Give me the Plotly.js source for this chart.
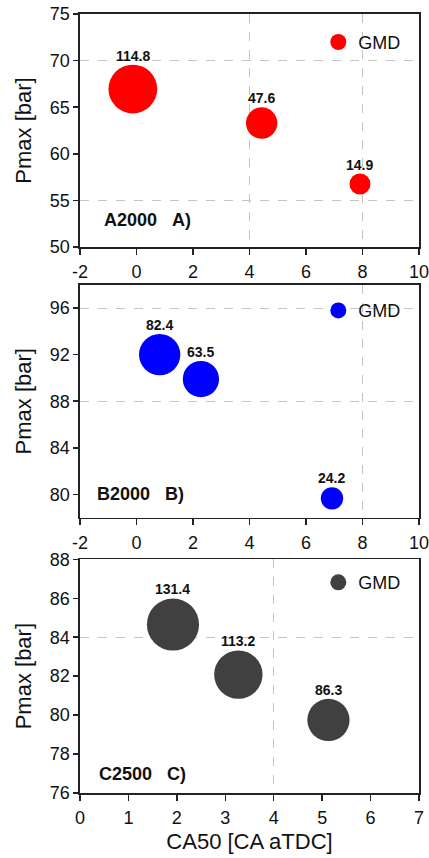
<!DOCTYPE html>
<html>
<head>
<meta charset="utf-8">
<script src="https://cdn.plot.ly/plotly-3.0.1.min.js"></script>
<style>html,body{margin:0;padding:0;background:#fff;}#chart{width:429px;height:858px;}</style>
</head>
<body>
<div id="chart"></div>
<script>
// Panel A (A2000)
const caA = [-0.13, 4.43, 7.91];
const pmaxA = [66.95, 63.3, 56.76];
const gmdA = [114.8, 47.6, 14.9];
// Panel B (B2000)
const caB = [0.82, 2.28, 6.92];
const pmaxB = [92.0, 89.9, 79.66];
const gmdB = [82.4, 63.5, 24.2];
// Panel C (C2500)
const caC = [1.92, 3.27, 5.13];
const pmaxC = [84.65, 82.08, 79.75];
const gmdC = [131.4, 113.2, 86.3];

// Tick values
const xTicksAB = [-2, 0, 2, 4, 6, 8, 10];
const xTicksC = [0, 1, 2, 3, 4, 5, 6, 7];
const yTicksA = [50, 55, 60, 65, 70, 75];
const yTicksB = [80, 84, 88, 92, 96];
const yTicksC = [76, 78, 80, 82, 84, 86, 88];

const seriesName = 'GMD';
const panelLabels = ['A2000\u00a0\u00a0\u00a0A)', 'B2000\u00a0\u00a0\u00a0B)', 'C2500\u00a0\u00a0\u00a0C)'];
const xTitle = 'CA50 [CA aTDC]';
const yTitle = 'Pmax [bar]';

const FONT = 'Arial, "Liberation Sans", sans-serif';
const SIZEREF = 0.0966;
const MINRAD = [10.5, 0, 0];

function radius(v, smin) { return Math.max(Math.sqrt(v / 2 / SIZEREF), smin); }

function bubble(x, y, v, color, xa, ya, leg, smin) {
  return {
    type: 'scatter', mode: 'markers',
    x: x, y: y, xaxis: xa, yaxis: ya,
    name: seriesName, legend: leg, showlegend: true,
    marker: {size: v, sizemode: 'area', sizeref: SIZEREF, sizemin: smin, color: color, line: {width: 0}, opacity: 1},
    cliponaxis: false,
    hoverinfo: 'skip'
  };
}

const traces = [
  bubble(caA, pmaxA, gmdA, '#ff0000', 'x', 'y', 'legend', MINRAD[0]),
  bubble(caB, pmaxB, gmdB, '#0000ff', 'x2', 'y2', 'legend2', MINRAD[1]),
  bubble(caC, pmaxC, gmdC, '#404040', 'x3', 'y3', 'legend3', MINRAD[2])
];

const tickFont = {family: FONT, size: 18, color: '#111'};
const titleFont = {family: FONT, size: 22, color: '#111'};
const fmt = v => String(v); // plain hyphen minus

function xax(range, ticks, anchor, gridvals, title) {
  const a = {
    range: range, tickmode: 'array', tickvals: ticks, ticktext: ticks.map(fmt), anchor: anchor,
    showgrid: false, zeroline: false,
    showline: true, linecolor: '#222', linewidth: 1.6, mirror: true,
    ticks: 'outside', ticklen: 6, tickwidth: 1.5, tickcolor: '#222',
    tickfont: tickFont, ticklabeloverflow: 'allow', ticklabelstandoff: 2,
    minor: {tickmode: 'array', tickvals: gridvals, showgrid: true, gridcolor: '#c4c4c4', griddash: 'dash', gridwidth: 1, ticks: ''},
    fixedrange: true
  };
  if (title) a.title = {text: title, font: titleFont, standoff: 6};
  return a;
}
function yax(range, ticks, anchor, domain, gridvals) {
  return {
    range: range, tickmode: 'array', tickvals: ticks, ticktext: ticks.map(fmt), anchor: anchor, domain: domain,
    showgrid: false, zeroline: false,
    showline: true, linecolor: '#222', linewidth: 1.6, mirror: true,
    ticks: 'outside', ticklen: 5, tickwidth: 1.5, tickcolor: '#222',
    tickfont: tickFont, ticklabeloverflow: 'allow',
    title: {text: yTitle, font: titleFont, standoff: 12},
    minor: {tickmode: 'array', tickvals: gridvals, showgrid: true, gridcolor: '#c4c4c4', griddash: 'dash', gridwidth: 1, ticks: ''},
    fixedrange: true
  };
}

function legendAt(y) {
  return {x: 0.703, y: y, xanchor: 'left', yanchor: 'middle', bgcolor: 'rgba(0,0,0,0)',
          font: {family: FONT, size: 18, color: '#111'}, borderwidth: 0};
}

function panelNote(text, xref, yref, x, y) {
  return {text: '<b>' + text + '</b>', xref: xref, yref: yref, x: x, y: y,
          xanchor: 'left', yanchor: 'middle', showarrow: false,
          font: {family: FONT, size: 18, color: '#111'}};
}

function valueLabels(x, y, v, xref, yref, smin) {
  return v.map((d, i) => ({
    text: '<b>' + d.toFixed(1) + '</b>', x: x[i], y: y[i], xref: xref, yref: yref,
    xanchor: 'center', yanchor: 'bottom', yshift: radius(d, smin) - 1,
    showarrow: false, font: {family: FONT, size: 14, color: '#111'}
  }));
}

const layout = {
  width: 429, height: 858,
  margin: {l: 80, r: 10, t: 14, b: 65},
  paper_bgcolor: '#fff', plot_bgcolor: '#fff',
  hovermode: false,
  showlegend: true,
  xaxis: xax([-2, 10], xTicksAB, 'y', [4, 8]),
  yaxis: yax([50, 75], yTicksA, 'x', [0.7009, 1], [55, 70]),
  xaxis2: xax([-2, 10], xTicksAB, 'y2', [8]),
  yaxis2: yax([78, 98], yTicksB, 'x2', [0.3534, 0.6525], [88, 96]),
  xaxis3: xax([0, 7], xTicksC, 'y3', [4], xTitle),
  yaxis3: yax([76, 88], yTicksC, 'x3', [0, 0.3], [84]),
  legend: legendAt(0.9637),
  legend2: legendAt(0.6191),
  legend3: legendAt(0.27),
  annotations: [
    panelNote(panelLabels[0], 'x domain', 'y domain', 0.065, 0.116),
    panelNote(panelLabels[1], 'x2 domain', 'y2 domain', 0.044, 0.10),
    panelNote(panelLabels[2], 'x3 domain', 'y3 domain', 0.051, 0.081)
  ].concat(
    valueLabels(caA, pmaxA, gmdA, 'x', 'y', MINRAD[0]),
    valueLabels(caB, pmaxB, gmdB, 'x2', 'y2', MINRAD[1]),
    valueLabels(caC, pmaxC, gmdC, 'x3', 'y3', MINRAD[2])
  )
};

Plotly.newPlot('chart', traces, layout, {staticPlot: true, displayModeBar: false});
</script>
</body>
</html>
